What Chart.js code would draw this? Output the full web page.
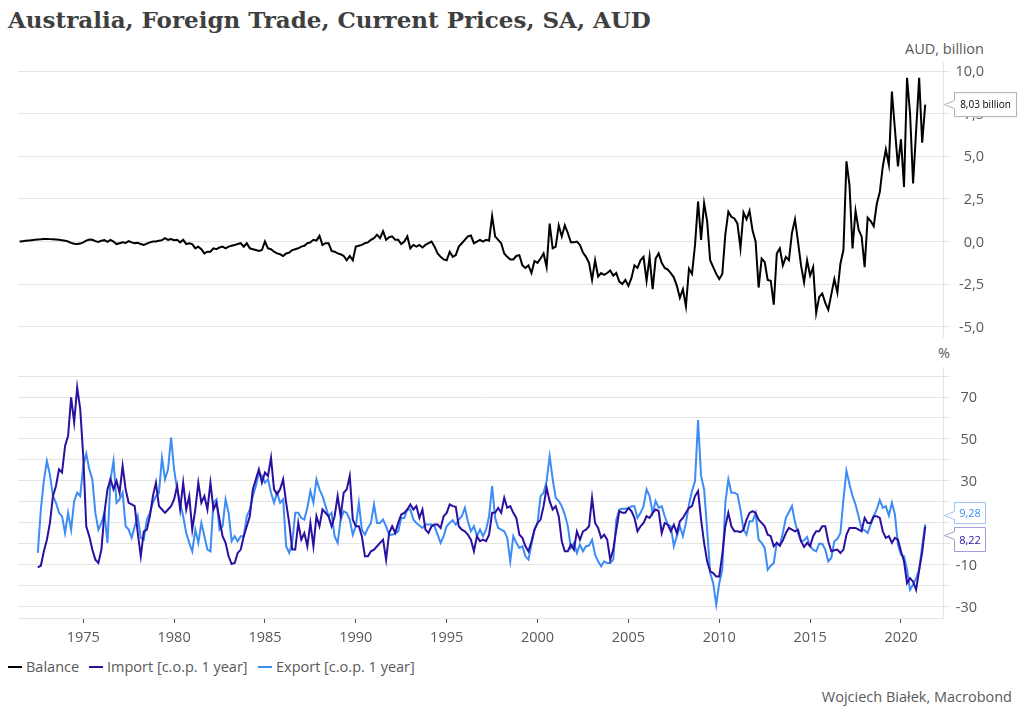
<!DOCTYPE html>
<html lang="en">
<head>
  <meta charset="UTF-8" />
  <title>Australia, Foreign Trade, Current Prices, SA, AUD</title>
  <script src="https://cdn.jsdelivr.net/npm/chart.js"></script>
  <style>
    body {
      margin: 0;
      background: #fff;
      font-family: "Open Sans", sans-serif;
      color: #595959;
    }

    .page {
      position: relative;
      width: 1024px;
      height: 717px;
      overflow: hidden;
    }

    h1 {
      position: absolute;
      left: 8px;
      top: 6px;
      margin: 0;
      font-family: "DejaVu Serif", Georgia, serif;
      font-size: 23px;
      font-weight: bold;
      color: #3f3f3f;
      white-space: nowrap;
    }

    .note {
      position: absolute;
      font-size: 14.5px;
      line-height: 18px;
      white-space: nowrap;
    }

    .wrap {
      position: absolute;
      left: 18px;
      width: 1006px;
    }

    #topWrap { top: 62px; height: 276px; }
    #bottomWrap { top: 367px; height: 283px; }

    .legend-item {
      position: absolute;
      top: 658px;
      font-size: 14.5px;
      line-height: 18px;
      white-space: nowrap;
    }

    .legend-item span {
      display: inline-block;
      width: 14px;
      height: 2px;
      margin-right: 4px;
      vertical-align: middle;
      position: relative;
      top: -1px;
    }
  </style>
</head>
<body>
  <div class="page">
    <h1>Australia, Foreign Trade, Current Prices, SA, AUD</h1>
    <div class="note" style="right:40px; top:40px;">AUD, billion</div>
    <div class="note" style="left:938px; top:344px;">%</div>

    <div class="wrap" id="topWrap"><canvas id="balanceChart"></canvas></div>
    <div class="wrap" id="bottomWrap"><canvas id="growthChart"></canvas></div>

    <div class="legend-item" style="left:8px;"><span style="background:#000;"></span>Balance</div>
    <div class="legend-item" style="left:89px;"><span style="background:#2b0fa0;"></span>Import [c.o.p. 1 year]</div>
    <div class="legend-item" style="left:258px;"><span style="background:#3d8cf5;"></span>Export [c.o.p. 1 year]</div>

    <div class="note" style="right:12px; top:688px;">Wojciech Białek, Macrobond</div>
  </div>

  <script>
    // two-monthly readings, decimal years
    const stepYears = 1 / 6;
    const balanceStart = 1971.5;
    const growthStart = 1972.5;

    // trade balance, AUD billion (from mid 1971)
    const balance = [
      0.0, 0.02, 0.04,
      0.06, 0.08, 0.1, 0.12, 0.13, 0.15,
      0.15, 0.14, 0.13, 0.12, 0.1, 0.08,
      0.05, 0.0, -0.08, -0.13, -0.15, -0.12,
      -0.05, 0.05, 0.12, 0.1, 0.02, -0.03,
      0.05, 0.08, -0.02, 0.1, 0.0, -0.15,
      -0.1, -0.05, -0.08, 0.02, -0.05, -0.1,
      -0.08, -0.15, -0.2, -0.12, -0.05, 0.0,
      0.0, 0.05, 0.08, 0.2, 0.1, 0.15,
      0.08, 0.1, -0.05, 0.1, -0.15, -0.1,
      -0.15, -0.4, -0.3, -0.45, -0.7, -0.6,
      -0.6, -0.4, -0.45, -0.35, -0.3, -0.4,
      -0.3, -0.25, -0.2, -0.15, -0.1, -0.3,
      -0.1, -0.4, -0.45, -0.5, -0.55, -0.5,
      0.0, -0.4, -0.45, -0.6, -0.7, -0.75,
      -0.85, -0.7, -0.65, -0.5, -0.45, -0.4,
      -0.3, -0.25, -0.1, -0.05, 0.1, 0.05,
      0.33, -0.2, -0.1, -0.1, -0.55, -0.6,
      -0.7, -0.75, -0.85, -1.1, -0.85, -1.1,
      -0.3, -0.25, -0.2, -0.1, -0.05, 0.1,
      0.2, 0.4, 0.2, 0.6, 0.1, 0.25,
      0.3, 0.1, 0.1, -0.15, 0.0, 0.3,
      -0.4, -0.2, -0.3, -0.2, -0.35, -0.2,
      -0.1, 0.0, -0.3, -0.7, -0.9, -1.05,
      -1.1, -0.6, -0.9, -0.8, -0.3, -0.1,
      0.1, 0.3, 0.35, -0.1, 0.0, 0.1,
      0.0, 0.1, 0.05, 1.5, 0.3, 0.1,
      -0.1, -0.7, -0.9, -1.05, -1.05, -0.85,
      -0.8, -1.4, -1.55, -1.4, -1.85, -1.15,
      -1.25, -1.0, -0.7, -1.5, 1.05, -0.4,
      -0.3, 0.95, 0.3, 0.95, 0.5, -0.05,
      -0.05, 0.0, -0.2, -0.65, -0.9, -1.25,
      -2.25, -1.1, -2.05, -1.85, -1.95, -1.85,
      -1.7, -2.0, -1.85, -2.35, -2.5, -2.25,
      -2.6, -2.15, -1.4, -1.55, -1.1, -0.9,
      -2.3, -0.9, -2.8, -1.0, -0.7, -1.25,
      -1.55, -1.65, -1.85, -2.1, -2.6, -3.3,
      -2.8, -3.8, -1.6, -1.9, -0.2, 2.35,
      0.1, 2.25, 1.2, -1.1, -1.5, -1.9,
      -2.2, -1.9, 0.4, 1.75, 1.45, 1.35,
      1.05, -0.4, 1.7, 1.3, 1.8, 0.65,
      0.0, -2.7, -1.0, -1.2, -2.25, -2.3,
      -3.7, -0.7, -0.4, -1.4, -0.9, -1.1,
      0.5, 1.3, 0.0, -1.4, -2.4, -1.1,
      -2.0, -1.5, -4.2, -3.25, -3.05, -3.6,
      -4.0, -3.1, -2.2, -3.0, -1.3, -0.5,
      4.7, 3.3, -0.4, 1.8, 0.7, 0.3,
      -1.5, 1.4, 1.2, 0.9, 2.2, 2.9,
      4.4, 5.4, 4.5, 8.8, 6.6, 4.4,
      6.0, 3.2, 9.6, 7.5, 3.4, 6.5,
      9.6, 5.8, 8.03
    ];

    // imports, % change on 1 year (from mid 1972)
    const importYoY = [
      -11.2, -10.4, -3.5, 2, 10, 22.8, 27.6, 35.5, 34, 46.7,
      51.5, 69.8, 57.9, 74.6, 64.3, 41.9, 8.4, 3.6, -2.7, -7.5,
      -9.1, -2.7, 14.8, 26, 30.8, 26, 30, 24.4, 37.2, 26,
      19.6, 18.8, 18, 5.2, -5.9, 6, 6.8, 13.2, 22.8, 29.2,
      18, 16.4, 14.8, 16.4, 18, 21.2, 27.6, 16.4, 29.2, 16.4,
      22.8, 6.8, 16.4, 29.2, 19.6, 22.8, 16.4, 29.2, 16.4, 19.6,
      11.6, 3.7, 0.5, -5.9, -9.6, -9.1, -4.3, -2.7, 3.7, 8.4,
      13.2, 26, 30.8, 35.5, 29.2, 34, 32.4, 41.1, 26, 23.6,
      26, 30.8, 19.6, 10, -2.7, -2.7, 10, 2, 5.2, -1.1,
      10, -1.1, 13.2, 8.4, 16.4, 14.8, 13.2, 8.4, 13.2, 22.8,
      13.2, 24.4, 26, 32.4, 11.6, 8.4, 8.4, 3.7, -5.9, -5.9,
      -3.5, -2.7, -1.1, 0.5, 2, -7.5, 5.2, 8.4, 5.2, 10,
      14, 14.8, 16.4, 18.8, 16.4, 18, 12.4, 16.4, 6.8, 5.2,
      8.4, 9.2, 9.2, 7.6, 13.2, 14.8, 18.8, 18, 17.7, 8.4,
      6.8, 6, 4.4, 2, -3.5, 3.7, 1.3, 2, 1.3, 4.4,
      14.8, 14.8, 17.2, 14.8, 22, 17.2, 18, 14.8, 12.4, 4.4,
      2.9, -1.1, -3.5, 1.3, 6.8, 10, 11.6, 18, 26.8, 20.4,
      16.4, 18, 13.2, 1.3, -3.5, -3.5, -0.3, -2.7, 6, 2,
      6, 6.8, 8.4, 22, 10, 7.6, 2.9, 4.4, 2, -7.5,
      -2.7, 6.8, 15.6, 14.8, 14.8, 17.2, 15.6, 12.4, 6, 8.4, 10, 13.2,
      12.4, 14.8, 16.4, 15.6, 5.2, 10, 9.2, 6, 9.2, 5.2,
      10.8, 12.4, 14.8, 17.2, 18, 22.8, 25.2, 11.6, 0.5, -8.3,
      -13.1, -13.9, -15.5, -15.5, -5.1, 8.4, 14.8, 8.4, 6, 6,
      5.6, 6.8, 11.6, 14.8, 15.6, 14.8, 11.6, 10, 8.4, 4.4,
      3.7, -1.1, 0.5, -0.8, 1.7, 5.2, 7.6, 6.8, 6, 6.8,
      1.3, -1.4, 0.5, -1.1, 3.7, 6, 6, 8.4, 8.4, 1.3,
      -3.5, -3, -2.7, -4.3, -2.7, 4.4, 7.6, 7.6, 7.6, 6.8,
      6, 12.4, 10, 10, 13.2, 13.2, 12.4, 6, 2.9, 3.7,
      0.5, 2.9, 2, -3.5, -8.3, -18.7, -16.3, -18, -21.9, -12.3, -4, 8.22
    ];

    // exports, % change on 1 year (from mid 1972)
    const exportYoY = [
      -4.3, 16.4, 30, 39.5, 33, 22.8, 19.6, 14.8, 13.2, 5.2,
      14.8, 6.8, 20.4, 24.4, 22.8, 37.2, 43, 35.5, 30.8, 14.8,
      6.8, 10, 14.8, 0.5, 30.8, 39.5, 19.6, 21.2, 24.4, 8.4,
      6.8, 2.9, 8.4, 13.2, 2.9, 2, 11.6, 14.8, 19.6, 22.8,
      24.4, 41, 30.8, 35.5, 50.7, 35.5, 26, 19.6, 13.2, 5.2,
      0.5, -3.5, 6.8, 0.5, 10, 3.7, -2.7, -3.5, 19.6, 21.2,
      6.8, 8.4, 21.2, 14.8, 1.3, 3.7, 1.3, 3.7, 3.7, 13.2,
      16.4, 22.8, 27.6, 33.8, 32.4, 29.2, 30.8, 24.4, 19.6, 24.4,
      19.6, 21.2, -1.1, -4.3, 0.5, 14.8, 14.8, 12.4, 11.6, 17.2,
      25.2, 19.6, 30.8, 26, 22.8, 18, 13.2, 14.8, 3.7, 0.5,
      11.6, 15.6, 14.8, 11.6, 4.4, 8.4, 19.6, 6.8, 4.4, 7.6,
      10, 18.8, 10, 10, 11.6, 8.4, 4.4, 4.4, 4.9, 6,
      12.4, 12.4, 16.4, 16.4, 11.6, 10, 8.8, 7.6, 9.2, 9.2,
      9.2, 8.4, 4.4, 0.5, 3.7, 8.4, 10, 11.3, 9.2, 11.6,
      13.2, 17.2, 10.8, 6, 8.4, 3.7, 6.8, 3.7, 6.8, 13.2,
      27.6, 12.4, 7.6, 6.8, 6, 2.9, -8.3, 3.7, 0.5, -1.9,
      -1.1, -5.9, -7.5, -0.3, 6.8, 10, 22.8, 24.4, 30, 41.8,
      30.8, 22, 20.4, 18, 14, 8.4, -1.9, 0.5, -4.3, -0.3,
      -3.5, -1.1, -0.8, 2, -5.1, -8.3, -10.7, -8.3, -9.1, -9.1,
      -7.5, 11.6, 16.4, 16.7, 16.7, 16.7, 18, 18, 12.4, 14.8, 18, 26,
      22.8, 14.8, 20.4, 17.2, 18, 13.2, 9.2, 8.4, -1.1, 3.7,
      8.4, 3.7, 10, 18.8, 25.2, 30, 59, 32.4, 26, 6.8,
      -13.9, -18.7, -29, -18.7, -12.3, 19.6, 30.8, 24.4, 24.4, 23.6,
      16.4, 6.8, 4.4, 10.8, 10.8, 14.8, 2, 0.5, -1.9, -12.3,
      -10.4, -9.1, 0.5, -0.8, 5.2, 12.4, 15.2, 18, 10.4, 5.2,
      1.3, 1.7, 3.3, -1.1, -2.7, -3.5, 0.1, 0.1, -2.7, -8.3,
      -6.7, 1.3, 2.4, 5.2, 21.2, 34.8, 28.4, 22.8, 18.8, 13.2,
      7.2, 6.5, 5.2, 9.2, 13.2, 16.4, 20.9, 17.2, 18, 13.5,
      19.6, 14, -0.3, -5.1, -5.9, -12.3, -21.9, -19.5, -16.3, -12.3, -1.1, 9.28
    ];

    const yearTicks = [1975, 1980, 1985, 1990, 1995, 2000, 2005, 2010, 2015, 2020];
    const balanceTicks = [-5, -2.5, 0, 2.5, 5, 7.5, 10];
    const growthTicks = [-30, -20, -10, 0, 10, 20, 30, 40, 50, 60, 70, 80];
    const growthLabels = [-30, -10, 30, 50, 70];

    const xMin = 1971.41, xMax = 2022.34;
    const gridColor = '#e4e4e4';
    const textColor = '#595959';
    const tickFont = { family: 'Open Sans', size: 14.5 };
    const importColor = '#2b0fa0';
    const exportColor = '#3d8cf5';

    function toPoints(start, values) {
      return values.map((v, i) => ({ x: start + i * stepYears, y: v }));
    }

    function fmt(v, digits) {
      return v.toFixed(digits).replace('.', ',');
    }

    // right-aligned value labels at the y scale's ticks
    function valueLabels(offset, label) {
      return {
        id: 'valueLabels',
        afterDraw(chart) {
          const ctx = chart.ctx;
          const scale = chart.scales.y;
          const x = chart.chartArea.right + offset;
          ctx.save();
          ctx.font = '14.5px "Open Sans"';
          ctx.fillStyle = textColor;
          ctx.textAlign = 'right';
          ctx.textBaseline = 'middle';
          scale.ticks.forEach(t => {
            const text = label(t.value);
            if (text) ctx.fillText(text, x, scale.getPixelForValue(t.value) + 1);
          });
          ctx.restore();
        }
      };
    }

    // label box with a small arrow pointing left at the last value
    function callout(ctx, tipX, tipY, top, bottom, right, text, textColor, lineColor) {
      const left = tipX + 10;
      ctx.save();
      ctx.beginPath();
      ctx.moveTo(tipX, tipY);
      ctx.lineTo(left, tipY - 4);
      ctx.lineTo(left, top);
      ctx.lineTo(right, top);
      ctx.lineTo(right, bottom);
      ctx.lineTo(left, bottom);
      ctx.lineTo(left, tipY + 4);
      ctx.closePath();
      ctx.fillStyle = '#fff';
      ctx.fill();
      ctx.strokeStyle = lineColor;
      ctx.lineWidth = 1;
      ctx.stroke();
      ctx.fillStyle = textColor;
      ctx.textBaseline = 'middle';
      ctx.textAlign = 'center';
      ctx.fillText(text, (left + right) / 2, (top + bottom) / 2 + 1);
      ctx.restore();
    }

    const balanceLabel = {
      id: 'balanceLabel',
      afterDraw(chart) {
        const ctx = chart.ctx;
        const last = balance[balance.length - 1];
        const y = chart.scales.y.getPixelForValue(last);
        const tipX = chart.chartArea.right + 1;
        ctx.font = '10px "Open Sans"';
        callout(ctx, tipX, y, y - 12, y + 12, tipX + 72, fmt(last, 2) + ' billion', '#000', '#b0b0b0');
      }
    };

    const growthLabelsPlugin = {
      id: 'growthLabels',
      afterDraw(chart) {
        const ctx = chart.ctx;
        const yScale = chart.scales.y;
        const lastE = exportYoY[exportYoY.length - 1];
        const lastI = importYoY[importYoY.length - 1];
        const yE = yScale.getPixelForValue(lastE);
        const yI = yScale.getPixelForValue(lastI);
        const mid = (yE + yI) / 2;
        const tipE = Math.min(yE, mid - 10);
        const tipI = Math.max(yI, mid + 10);
        const tipX = chart.chartArea.right + 1;
        ctx.font = '11px "Open Sans"';
        callout(ctx, tipX, tipE, tipE - 13, tipE + 8, tipX + 41, fmt(lastE, 2), exportColor, '#9cc2f7');
        callout(ctx, tipX, tipI, tipI - 8, tipI + 16, tipX + 41, fmt(lastI, 2), importColor, '#a49ad6');
      }
    };

    function rightAxis(min, max, ticks) {
      return {
        position: 'right',
        min: min,
        max: max,
        afterBuildTicks: axis => { axis.ticks = ticks.map(v => ({ value: v })); },
        afterFit: axis => { axis.width = 80.5; axis.paddingTop = 0; axis.paddingBottom = 0; },
        ticks: { display: false },
        grid: { color: gridColor, tickLength: 6 },
        border: { color: gridColor }
      };
    }

    new Chart(document.getElementById('balanceChart'), {
      type: 'line',
      data: {
        datasets: [{
          label: 'Balance',
          data: toPoints(balanceStart, balance),
          borderColor: '#000',
          borderWidth: 2,
          pointRadius: 0,
          tension: 0
        }]
      },
      options: {
        responsive: true,
        maintainAspectRatio: false,
        animation: false,
        layout: { padding: 0 },
        plugins: { legend: { display: false }, tooltip: { enabled: false } },
        scales: {
          x: {
            type: 'linear',
            min: xMin,
            max: xMax,
            ticks: { display: false },
            grid: { drawOnChartArea: false, drawTicks: false },
            border: { color: gridColor },
            afterFit: axis => { axis.height = 0; axis.paddingLeft = 0; axis.paddingRight = 0; }
          },
          y: rightAxis(-5.66, 10.53, balanceTicks)
        }
      },
      plugins: [valueLabels(40.5, v => fmt(v, 1)), balanceLabel]
    });

    new Chart(document.getElementById('growthChart'), {
      type: 'line',
      data: {
        datasets: [{
          label: 'Import [c.o.p. 1 year]',
          data: toPoints(growthStart, importYoY),
          borderColor: importColor,
          borderWidth: 2,
          pointRadius: 0,
          tension: 0
        }, {
          label: 'Export [c.o.p. 1 year]',
          data: toPoints(growthStart, exportYoY),
          borderColor: exportColor,
          borderWidth: 2,
          pointRadius: 0,
          tension: 0
        }]
      },
      options: {
        responsive: true,
        maintainAspectRatio: false,
        animation: false,
        layout: { padding: 0 },
        plugins: { legend: { display: false }, tooltip: { enabled: false } },
        scales: {
          x: {
            type: 'linear',
            min: xMin,
            max: xMax,
            afterBuildTicks: axis => { axis.ticks = yearTicks.map(v => ({ value: v })); },
            afterFit: axis => { axis.height = 32; axis.paddingLeft = 0; axis.paddingRight = 0; },
            ticks: { color: textColor, font: tickFont, padding: 6, maxRotation: 0, autoSkip: false, callback: v => String(v) },
            grid: { drawOnChartArea: false, color: '#555', tickLength: 5 },
            border: { color: gridColor }
          },
          y: rightAxis(-35.3, 84.3, growthTicks)
        }
      },
      plugins: [valueLabels(33.5, v => growthLabels.includes(v) ? String(v) : ''), growthLabelsPlugin]
    });
  </script>
</body>
</html>
